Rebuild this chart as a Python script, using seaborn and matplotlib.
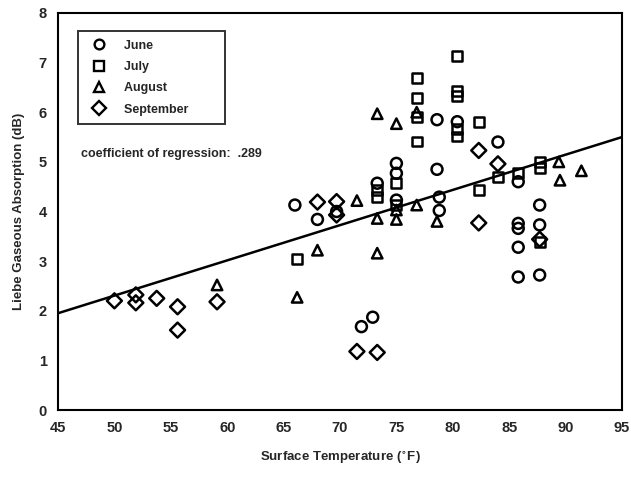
import matplotlib
matplotlib.use("Agg")
import matplotlib.pyplot as plt
import seaborn as sns
import pandas as pd
from matplotlib.lines import Line2D

# ---- data ----
june_x = [66.0, 68.0, 69.7, 71.9, 72.9, 73.3, 75.0, 75.0, 75.0, 78.6, 78.6, 78.8, 78.8,
          80.4, 84.0, 85.8, 85.8, 85.8, 85.8, 85.8, 87.7, 87.7, 87.7]
june_y = [4.13, 3.84, 4.00, 1.68, 1.87, 4.57, 4.97, 4.77, 4.23, 5.85, 4.85, 4.29, 4.02,
          5.81, 5.40, 4.60, 3.76, 3.66, 3.28, 2.68, 4.13, 3.73, 2.72]

july_x = [66.2, 73.3, 73.3, 75.0, 75.0, 76.8, 76.8, 76.8, 76.8, 80.4, 80.4, 80.4, 80.4,
          80.4, 82.3, 82.3, 84.0, 85.8, 87.7, 87.7, 87.7]
july_y = [3.04, 4.43, 4.30, 4.57, 4.13, 6.69, 6.28, 5.90, 5.41, 7.14, 6.42, 6.32, 5.66,
          5.51, 5.81, 4.44, 4.70, 4.77, 5.00, 4.87, 3.38]

aug_x = [59.1, 66.2, 68.0, 71.5, 73.3, 73.3, 73.3, 75.0, 75.0, 75.0, 76.8, 76.8, 78.6,
         89.4, 89.5, 91.4]
aug_y = [2.52, 2.27, 3.22, 4.22, 5.97, 3.86, 3.16, 5.77, 4.03, 3.84, 6.00, 4.13, 3.80,
         5.00, 4.63, 4.82]

sep_x = [50.0, 51.9, 51.9, 53.75, 55.6, 55.6, 59.1, 68.0, 69.7, 69.7, 71.5, 73.3, 82.3,
         82.3, 84.0, 87.7]
sep_y = [2.20, 2.32, 2.16, 2.25, 2.08, 1.61, 2.18, 4.19, 4.20, 3.93, 1.18, 1.16, 5.23,
         3.77, 4.96, 3.44]

months = ["June", "July", "August", "September"]
reg_x = [45, 95]
reg_y = [1.95, 5.50]
coef_text = "coefficient of regression:  .289"

x_ticks = list(range(45, 96, 5))
y_ticks = list(range(0, 9))

# ---- build table ----
frames = []
for m, xs, ys in zip(months, [june_x, july_x, aug_x, sep_x], [june_y, july_y, aug_y, sep_y]):
    frames.append(pd.DataFrame({"temp": xs, "absorb": ys, "month": m}))
df = pd.concat(frames, ignore_index=True)
reg = pd.DataFrame({"temp": reg_x, "absorb": reg_y})

sns.set_style("white")
plt.rcParams["font.family"] = ["Liberation Sans", "DejaVu Sans"]
plt.rcParams["font.weight"] = "bold"

fig = plt.figure(figsize=(6.31, 4.80), dpi=100)
ax = fig.add_axes([58 / 631, 70 / 480, (622 - 58) / 631, (410 - 13) / 480])

marker_map = {"June": "o", "July": "s", "August": "^", "September": "D"}
size_map = {"June": 62, "July": 50, "August": 56, "September": 58}

sns.lineplot(data=reg, x="temp", y="absorb", color="black", linewidth=1.8, ax=ax)

for m in months:
    sub = df[df["month"] == m]
    sns.scatterplot(data=sub, x="temp", y="absorb", marker=marker_map[m],
                    s=size_map[m], facecolors="none", edgecolor="black",
                    linewidth=1.8, ax=ax, legend=False, zorder=3)
for coll in ax.collections:
    coll.set_facecolor("none")
    coll.set_edgecolor("black")

ax.set_xlim(45, 95)
ax.set_ylim(0, 8)
ax.set_xticks(x_ticks)
ax.set_yticks(y_ticks)
ax.tick_params(axis="both", direction="out", length=5, width=1.2, color="black",
               labelsize=10.5, pad=3)
for lab in ax.get_xticklabels() + ax.get_yticklabels():
    lab.set_fontweight("bold")
for sp in ax.spines.values():
    sp.set_visible(True)
    sp.set_color("black")
    sp.set_linewidth(1.5)

ax.set_xlabel("Surface Temperature ($^{\\circ}$F)", fontsize=9.5, fontweight="bold", labelpad=10)
ax.set_ylabel("Liebe Gaseous Absorption (dB)", fontsize=9.5, fontweight="bold", labelpad=10)

handles = [Line2D([], [], linestyle="none", marker=marker_map[m], markersize=7,
                  markerfacecolor="none", markeredgecolor="black", markeredgewidth=1.7)
           for m in months]
leg = ax.legend(handles, months, loc="upper left", bbox_to_anchor=(0.035, 0.955),
                frameon=True, fancybox=False, edgecolor="black", fontsize=9,
                handletextpad=1.0, labelspacing=0.75, borderpad=0.7, borderaxespad=0)
leg.get_frame().set_linewidth(1.4)
for t in leg.get_texts():
    t.set_fontweight("bold")
    t.set_text(t.get_text() + "        ")

ax.text(0.04, 0.645, coef_text, transform=ax.transAxes, fontsize=9, fontweight="bold",
        ha="left", va="center")

fig.savefig("out.png", dpi=100)
